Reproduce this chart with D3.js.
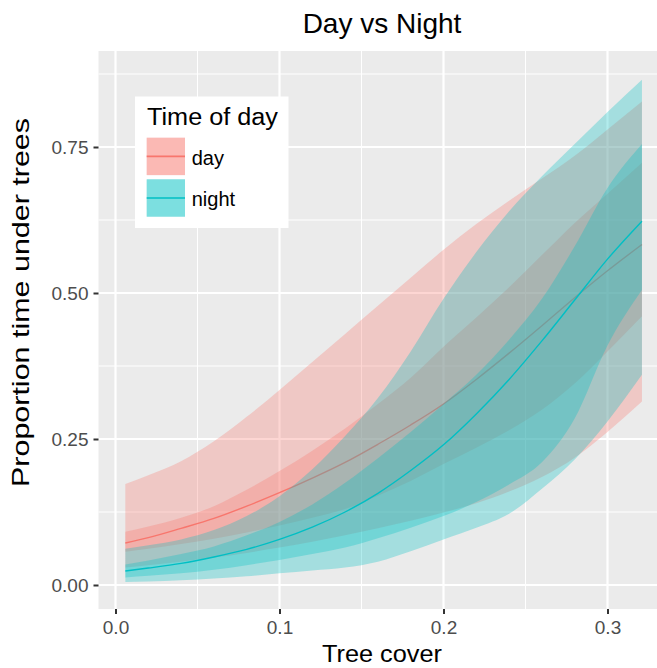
<!DOCTYPE html>
<html>
<head>
<meta charset="utf-8">
<script src="https://cdn.jsdelivr.net/npm/d3@7/dist/d3.min.js"></script>
<style>
  html, body { margin: 0; padding: 0; background: #ffffff; }
  svg { display: block; font-family: "Liberation Sans", Arial, Helvetica, sans-serif; }
</style>
</head>
<body>
<svg id="chart" width="657" height="668"></svg>
<script>
// Tree cover values at which the model predictions are summarised
const treeCover = [0.006, 0.02, 0.04, 0.06, 0.08, 0.10, 0.12, 0.14, 0.16, 0.18, 0.20, 0.22, 0.24, 0.26, 0.28, 0.30, 0.321];

// Day: median prediction with inner (50%) and outer (95%) intervals
const dayMid  = [0.072, 0.081, 0.097, 0.114, 0.135, 0.158, 0.183, 0.210, 0.241, 0.274, 0.310, 0.352, 0.397, 0.444, 0.492, 0.538, 0.583];
const dayLo50 = [0.057, 0.062, 0.070, 0.079, 0.090, 0.102, 0.115, 0.130, 0.153, 0.178, 0.207, 0.235, 0.265, 0.300, 0.345, 0.400, 0.460];
const dayHi50 = [0.091, 0.100, 0.115, 0.135, 0.163, 0.195, 0.230, 0.268, 0.310, 0.355, 0.408, 0.458, 0.510, 0.565, 0.620, 0.670, 0.723];
const dayLo95 = [0.030, 0.034, 0.040, 0.047, 0.055, 0.064, 0.074, 0.085, 0.097, 0.110, 0.124, 0.140, 0.160, 0.185, 0.218, 0.262, 0.314];
const dayHi95 = [0.173, 0.188, 0.212, 0.246, 0.288, 0.334, 0.382, 0.430, 0.478, 0.526, 0.574, 0.618, 0.658, 0.696, 0.735, 0.780, 0.828];

// Night: median prediction with inner (50%) and outer (95%) intervals
const nightMid  = [0.024, 0.029, 0.037, 0.048, 0.061, 0.078, 0.099, 0.125, 0.157, 0.196, 0.240, 0.293, 0.352, 0.418, 0.488, 0.558, 0.623];
const nightLo50 = [0.013, 0.016, 0.020, 0.026, 0.034, 0.043, 0.053, 0.064, 0.080, 0.098, 0.118, 0.142, 0.172, 0.210, 0.285, 0.410, 0.505];
const nightHi50 = [0.035, 0.042, 0.053, 0.066, 0.085, 0.108, 0.138, 0.175, 0.217, 0.262, 0.310, 0.360, 0.420, 0.490, 0.580, 0.680, 0.755];
const nightLo95 = [0.005, 0.006, 0.008, 0.011, 0.015, 0.020, 0.025, 0.030, 0.040, 0.058, 0.078, 0.098, 0.122, 0.165, 0.215, 0.280, 0.360];
const nightHi95 = [0.062, 0.068, 0.078, 0.094, 0.118, 0.152, 0.198, 0.255, 0.320, 0.400, 0.490, 0.570, 0.640, 0.700, 0.755, 0.810, 0.865];

const xTicks = [0, 0.1, 0.2, 0.3];
const xMinor = [0.05, 0.15, 0.25];
const yTicks = [0, 0.25, 0.5, 0.75];
const yMinor = [0.125, 0.375, 0.625, 0.875];

const groups = ["day", "night"];
const groupColor = { day: "#F8766D", night: "#00BFC4" };

const series = [
  { key: "day",   mid: dayMid,   lo50: dayLo50,   hi50: dayHi50,   lo95: dayLo95,   hi95: dayHi95 },
  { key: "night", mid: nightMid, lo50: nightLo50, hi50: nightHi50, lo95: nightLo95, hi95: nightHi95 }
];

const svg = d3.select("#chart");
const panel = { left: 98.5, top: 51, right: 667, bottom: 609 };

const x = d3.scaleLinear().domain([0, 0.3]).range([115.5, 607.5]);
const y = d3.scaleLinear().domain([0, 0.75]).range([585, 147]);

// panel background
svg.append("rect")
  .attr("x", panel.left).attr("y", panel.top)
  .attr("width", panel.right - panel.left).attr("height", panel.bottom - panel.top)
  .attr("fill", "#EBEBEB");

const grid = svg.append("g");
grid.selectAll(".xminor").data(xMinor).join("line")
  .attr("x1", d => x(d)).attr("x2", d => x(d))
  .attr("y1", panel.top).attr("y2", panel.bottom)
  .attr("stroke", "#ffffff").attr("stroke-width", 1);
grid.selectAll(".yminor").data(yMinor).join("line")
  .attr("y1", d => y(d)).attr("y2", d => y(d))
  .attr("x1", panel.left).attr("x2", panel.right)
  .attr("stroke", "#ffffff").attr("stroke-width", 1);
grid.selectAll(".xmajor").data(xTicks).join("line")
  .attr("x1", d => x(d)).attr("x2", d => x(d))
  .attr("y1", panel.top).attr("y2", panel.bottom)
  .attr("stroke", "#ffffff").attr("stroke-width", 2.2);
grid.selectAll(".ymajor").data(yTicks).join("line")
  .attr("y1", d => y(d)).attr("y2", d => y(d))
  .attr("x1", panel.left).attr("x2", panel.right)
  .attr("stroke", "#ffffff").attr("stroke-width", 2.2);

// ribbons and median lines, day first then night
const plot = svg.append("g");
series.forEach(s => {
  const pts = treeCover.map((t, i) => ({ t, mid: s.mid[i], lo50: s.lo50[i], hi50: s.hi50[i], lo95: s.lo95[i], hi95: s.hi95[i] }));
  const area95 = d3.area().x(d => x(d.t)).y0(d => y(d.lo95)).y1(d => y(d.hi95)).curve(d3.curveMonotoneX);
  const area50 = d3.area().x(d => x(d.t)).y0(d => y(d.lo50)).y1(d => y(d.hi50)).curve(d3.curveMonotoneX);
  const line = d3.line().x(d => x(d.t)).y(d => y(d.mid)).curve(d3.curveMonotoneX);
  plot.append("path").datum(pts).attr("d", area95)
    .attr("fill", groupColor[s.key]).attr("fill-opacity", 0.3);
  plot.append("path").datum(pts).attr("d", area50)
    .attr("fill", groupColor[s.key]).attr("fill-opacity", 0.3);
  plot.append("path").datum(pts).attr("d", line)
    .attr("fill", "none").attr("stroke", groupColor[s.key]).attr("stroke-width", 1.4);
});

// axes
const xAxis = d3.axisBottom(x).tickValues(xTicks).tickFormat(d3.format(".1f")).tickSize(5).tickPadding(7);
const yAxis = d3.axisLeft(y).tickValues(yTicks).tickFormat(d3.format(".2f")).tickSize(5).tickPadding(5);

const gx = svg.append("g").attr("transform", `translate(0,${panel.bottom})`).call(xAxis);
const gy = svg.append("g").attr("transform", `translate(${panel.left},0)`).call(yAxis);
[gx, gy].forEach(g => {
  g.select(".domain").remove();
  g.selectAll(".tick line").attr("stroke", "#333333").attr("stroke-width", 2);
  g.selectAll(".tick text").attr("fill", "#4D4D4D").attr("font-size", 19)
    .attr("font-family", "Liberation Sans, Arial, sans-serif");
});

// titles
svg.append("text").attr("x", 382).attr("y", 33).attr("text-anchor", "middle")
  .attr("font-size", 28).attr("fill", "#000000").text("Day vs Night");
svg.append("text").attr("x", 382).attr("y", 662).attr("text-anchor", "middle")
  .attr("font-size", 24).attr("fill", "#000000")
  .attr("textLength", 120).attr("lengthAdjust", "spacingAndGlyphs").text("Tree cover");
svg.append("text").attr("transform", "translate(29,302.5) rotate(-90)").attr("text-anchor", "middle")
  .attr("font-size", 24).attr("fill", "#000000")
  .attr("textLength", 369).attr("lengthAdjust", "spacingAndGlyphs").text("Proportion time under trees");

// legend
const legend = svg.append("g");
legend.append("rect").attr("x", 135).attr("y", 96.5).attr("width", 153.5).attr("height", 131.5).attr("fill", "#ffffff");
legend.append("text").attr("x", 147).attr("y", 125).attr("font-size", 23).attr("fill", "#000000")
  .attr("textLength", 131).attr("lengthAdjust", "spacingAndGlyphs").text("Time of day");
const keyY = { day: 137.7, night: 179.3 };
groups.forEach(g => {
  const k = legend.append("g").attr("transform", `translate(146.7,${keyY[g]})`);
  k.append("rect").attr("width", 38.3).attr("height", 37.4).attr("fill", groupColor[g]).attr("fill-opacity", 0.3);
  k.append("rect").attr("width", 38.3).attr("height", 37.4).attr("fill", groupColor[g]).attr("fill-opacity", 0.3);
  k.append("line").attr("x1", 0).attr("x2", 38.3).attr("y1", 18.7).attr("y2", 18.7)
    .attr("stroke", groupColor[g]).attr("stroke-width", 1.6);
  k.append("text").attr("x", 45).attr("y", 27).attr("font-size", 20).attr("fill", "#000000").text(g);
});
</script>
</body>
</html>
